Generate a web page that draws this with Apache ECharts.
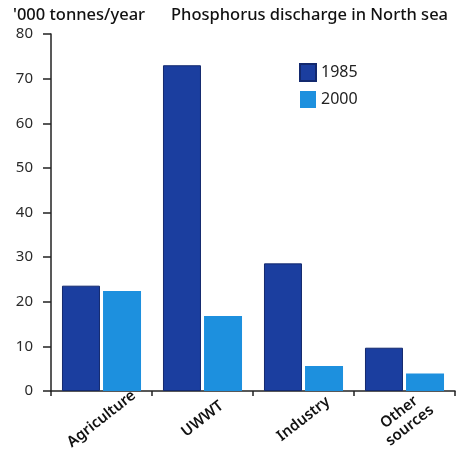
<!DOCTYPE html>
<html>
<head>
<meta charset="utf-8">
<script src="https://cdn.jsdelivr.net/npm/echarts@6/dist/echarts.min.js"></script>
<style>
html,body{margin:0;padding:0;background:#fff;}
#c{width:456px;height:455px;}
</style>
</head>
<body>
<div id="c"></div>
<script>
const categories = ['Agriculture', 'UWWT', 'Industry', 'Other\nsources'];
const series1985 = [23.6, 73.0, 28.6, 9.7];
const series2000 = [22.4, 16.8, 5.6, 3.9];
const yTicks = [0, 10, 20, 30, 40, 50, 60, 70, 80];

const chart = echarts.init(document.getElementById('c'));
const font = '"Noto Sans", "Open Sans", sans-serif';
chart.setOption({
  animation: false,
  backgroundColor: '#ffffff',
  title: [
    { text: "'000 tonnes/year", left: 13, top: 7, padding: 0,
      textStyle: { fontFamily: font, fontSize: 16.5, fontWeight: 500, color: '#111' } },
    { text: 'Phosphorus discharge in North sea', left: 171, top: 7, padding: 0,
      textStyle: { fontFamily: font, fontSize: 16.5, fontWeight: 500, color: '#111' } }
  ],
  legend: {
    left: 299, top: 63, padding: 0, orient: 'vertical', itemWidth: 16, itemHeight: 17, itemGap: 9,
    icon: 'rect',
    textStyle: { fontFamily: font, fontSize: 16, color: '#222' },
    data: ['1985', '2000']
  },
  grid: { left: 51, right: 1, top: 34, bottom: 64, containLabel: false },
  xAxis: {
    type: 'category', data: categories,
    axisLine: { show: true, lineStyle: { color: '#222', width: 1.5 } },
    axisTick: { show: true, alignWithLabel: false, length: 5, inside: false, lineStyle: { color: '#222', width: 1.5 } },
    axisLabel: { rotate: 38, margin: 28, align: 'center', verticalAlign: 'middle',
      fontFamily: font, fontSize: 15, fontWeight: 600, color: '#111', lineHeight: 17, interval: 0 }
  },
  yAxis: {
    type: 'value', min: 0, max: 80, interval: 10,
    axisLine: { show: true, lineStyle: { color: '#222', width: 1.5 } },
    axisTick: { show: true, length: 8, lineStyle: { color: '#222', width: 1.5 } },
    splitLine: { show: false },
    axisLabel: { margin: 18, fontFamily: font, fontSize: 15, color: '#2a2a2a',
      formatter: v => yTicks.includes(v) ? String(v) : '' }
  },
  series: [
    { name: '1985', type: 'bar', data: series1985, barWidth: 38, barGap: '8%',
      itemStyle: { color: '#1b3e9f', borderColor: '#13296e', borderWidth: 1 } },
    { name: '2000', type: 'bar', data: series2000, barWidth: 38,
      itemStyle: { color: '#1d90de' } }
  ]
});
</script>
</body>
</html>
